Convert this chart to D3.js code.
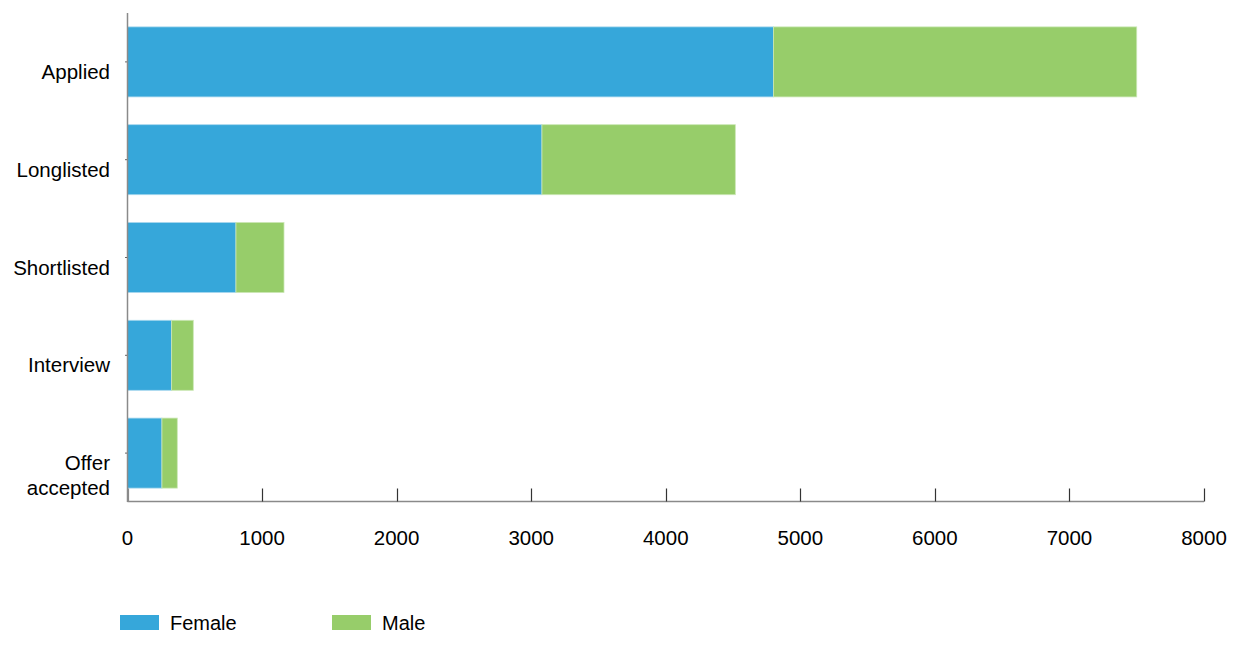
<!DOCTYPE html>
<html><head><meta charset="utf-8">
<script src="https://cdn.jsdelivr.net/npm/d3@7"></script>
<style>body{margin:0;background:#fff;} text{font-family:"Liberation Sans",Arial,sans-serif;}</style>
</head><body>
<svg id="c" width="1250" height="650"></svg>
<script>
const categories = ["Applied","Longlisted","Shortlisted","Interview","Offer accepted"];
const female = [4800, 3080, 806, 328, 256];
const male = [2700, 1437, 357, 161, 114];
const seriesNames = ["Female","Male"];
const colors = ["#36a7da","#97cd6a"];
const xTicks = [0,1000,2000,3000,4000,5000,6000,7000,8000];

const svg = d3.select("#c");
const x = d3.scaleLinear().domain([0,8000]).range([127.5,1204]);
const y = d3.scaleBand().domain(categories).range([13,502]).paddingInner(0.284).paddingOuter(0.142);

const rows = categories.map((c,i)=>({cat:c, Female:female[i], Male:male[i]}));
const stacked = d3.stack().keys(seriesNames)(rows);

svg.append("g").selectAll("g").data(stacked).join("g")
  .attr("fill",(d,i)=>colors[i])
  .attr("stroke",(d,i)=>i===0?"#a9d8ee":"#cbe7b5")
  .attr("stroke-width",0.8)
  .selectAll("rect").data(d=>d).join("rect")
  .attr("x",d=>x(d[0]))
  .attr("y",d=>y(d.data.cat))
  .attr("width",d=>x(d[1])-x(d[0]))
  .attr("height",y.bandwidth());

// x axis
const xa = svg.append("g").attr("transform","translate(0,501.5)");
xa.append("line").attr("x1",127.5).attr("x2",1204).attr("stroke","#8a8a8a").attr("stroke-width",1.5);
xa.selectAll("line.t").data(xTicks).join("line").attr("class","t")
  .attr("x1",d=>Math.round(x(d))+0.5).attr("x2",d=>Math.round(x(d))+0.5)
  .attr("y1",-13).attr("y2",0).attr("stroke",(d,i)=>i===0?"#8a8a8a":"#333").attr("stroke-width",1.2);
xa.selectAll("text").data(xTicks).join("text")
  .attr("x",d=>x(d)).attr("y",43).attr("text-anchor","middle")
  .attr("font-size",20.5).attr("fill","#000").text(d=>d);

// y axis
svg.append("line").attr("x1",127.5).attr("x2",127.5).attr("y1",13).attr("y2",502)
  .attr("stroke","#8a8a8a").attr("stroke-width",1.5);
const yl = svg.append("g");
categories.forEach(c=>{
  const cy = y(c)+y.bandwidth()/2;
  yl.append("line").attr("x1",125).attr("x2",127).attr("y1",cy).attr("y2",cy).attr("stroke","#666");
  const words = c==="Offer accepted" ? ["Offer","accepted"] : [c];
  const t = yl.append("text").attr("text-anchor","end").attr("font-size",20.5).attr("fill","#000");
  words.forEach((w,k)=>{
    t.append("tspan").attr("x",110).attr("y",cy+10+k*25).attr("dy","0.35em").text(w);
  });
});

// legend
const lg = svg.append("g");
const lx = [120,332];
seriesNames.forEach((s,i)=>{
  lg.append("rect").attr("x",lx[i]).attr("y",615).attr("width",39).attr("height",15).attr("fill",colors[i]);
  lg.append("text").attr("x",lx[i]+50).attr("y",623).attr("dy","0.35em").attr("font-size",20).attr("fill","#000").text(s);
});
</script>
</body></html>
